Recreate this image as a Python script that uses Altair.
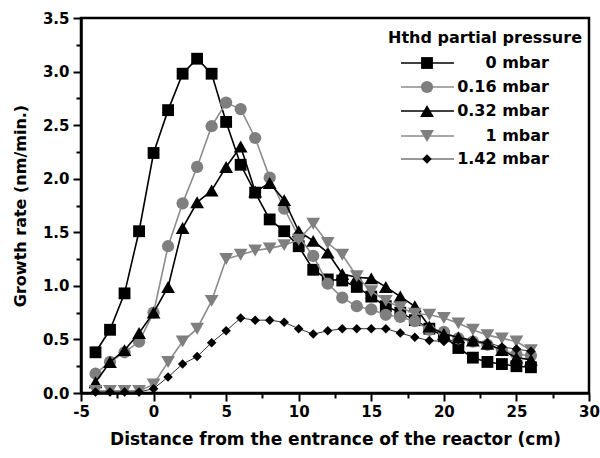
import altair as alt
import pandas as pd

distance = list(range(-4, 27))

rate_0 = [0.38, 0.59, 0.93, 1.51, 2.24, 2.64, 2.98, 3.12, 2.98, 2.53, 2.13, 1.87, 1.62, 1.51, 1.37,
          1.15, 1.06, 1.05, 0.99, 0.90, 0.81, 0.75, 0.68, 0.60, 0.53, 0.42, 0.33, 0.29, 0.27, 0.25, 0.24]
rate_016 = [0.18, 0.29, 0.38, 0.48, 0.75, 1.37, 1.77, 2.11, 2.49, 2.71, 2.65, 2.38, 2.01, 1.72, 1.46,
            1.28, 1.02, 0.89, 0.81, 0.78, 0.73, 0.71, 0.67, 0.59, 0.57, 0.51, 0.48, 0.45, 0.40, 0.36, 0.35]
rate_032 = [0.10, 0.29, 0.40, 0.56, 0.75, 0.99, 1.54, 1.78, 1.89, 2.11, 2.30, 1.88, 1.96, 1.80, 1.51,
            1.42, 1.31, 1.11, 1.08, 1.07, 0.99, 0.90, 0.81, 0.62, 0.55, 0.52, 0.49, 0.46, 0.40, 0.33, 0.31]
rate_1 = [0.02, 0.02, 0.02, 0.02, 0.08, 0.29, 0.48, 0.60, 0.86, 1.25, 1.29, 1.33, 1.35, 1.38, 1.43,
          1.58, 1.40, 1.29, 1.09, 0.95, 0.86, 0.80, 0.74, 0.73, 0.70, 0.65, 0.59, 0.54, 0.51, 0.48, 0.40]
rate_142 = [0.01, 0.01, 0.01, 0.01, 0.04, 0.15, 0.27, 0.34, 0.47, 0.58, 0.70, 0.68, 0.68, 0.66, 0.60,
            0.55, 0.58, 0.60, 0.60, 0.60, 0.60, 0.56, 0.52, 0.49, 0.48, 0.50, 0.49, 0.47, 0.43, 0.41, 0.39]

series_names = ["0 mbar", "0.16 mbar", "0.32 mbar", "1 mbar", "1.42 mbar"]
series_values = [rate_0, rate_016, rate_032, rate_1, rate_142]
series_colors = ["#000000", "#7f7f7f", "#000000", "#7f7f7f", "#000000"]
line_colors = ["#000000", "#8c8c8c", "#000000", "#8c8c8c", "#333333"]
line_widths = [1.6, 1.6, 1.6, 1.6, 1.0]
series_shapes = ["square", "circle", "triangle-up", "triangle-down", "diamond"]
series_sizes = [140, 150, 190, 190, 90]

x_ticks = [-5 + 2.5 * i for i in range(15)]
y_ticks = [0.25 * i for i in range(15)]

FONT = "DejaVu Sans"
W, H = 508, 375

x_axis = alt.Axis(
    values=x_ticks, title="Distance from the entrance of the reactor (cm)",
    labelExpr="datum.value % 5 === 0 ? '' + datum.value : ''",
    tickSize={"condition": {"test": "datum.value % 5 === 0", "value": 8}, "value": 5},
    labelFlush=False, labelOverlap=False, grid=False,
    domainColor="black", domainWidth=2.5, tickColor="black", tickWidth=2,
    labelFont=FONT, labelFontWeight="bold", labelFontSize=15, labelColor="black", labelPadding=3,
    titleFont=FONT, titleFontWeight="bold", titleFontSize=17, titleColor="black", titlePadding=12,
)
y_axis = alt.Axis(
    values=y_ticks, title="Growth rate (nm/min.)", format=".1f",
    labelExpr="abs(datum.value*2 - round(datum.value*2)) < 0.001 ? datum.label : ''",
    tickSize={"condition": {"test": "abs(datum.value*2 - round(datum.value*2)) < 0.001", "value": 8}, "value": 5},
    labelFlush=False, labelOverlap=False, grid=False,
    domainColor="black", domainWidth=2.5, tickColor="black", tickWidth=2,
    labelFont=FONT, labelFontWeight="bold", labelFontSize=15, labelColor="black", labelPadding=4,
    titleFont=FONT, titleFontWeight="bold", titleFontSize=16, titleColor="black", titlePadding=14,
)
x_scale = alt.Scale(domain=[-5, 30], nice=False, zero=False)
y_scale = alt.Scale(domain=[0, 3.5], nice=False, zero=False)

layers = []
for i, (name, vals) in enumerate(zip(series_names, series_values)):
    df = pd.DataFrame({"distance": distance, "rate": vals, "series": name})
    base = alt.Chart(df).encode(
        x=alt.X("distance:Q", scale=x_scale, axis=x_axis),
        y=alt.Y("rate:Q", scale=y_scale, axis=y_axis),
    )
    layers.append(base.mark_line(color=line_colors[i], strokeWidth=line_widths[i]))
    layers.append(base.mark_point(shape=series_shapes[i], size=series_sizes[i], filled=True,
                                  color=series_colors[i], opacity=1, strokeWidth=0))

# legend (inside the plot, top right)
leg_rows = [45, 69, 93, 118, 141]
layers.append(alt.Chart(pd.DataFrame({"t": ["Hthd partial pressure"]})).mark_text(
    font=FONT, fontWeight="bold", fontSize=16, align="center", baseline="middle", color="black"
).encode(text="t:N", x=alt.value(404), y=alt.value(20)))
for i, name in enumerate(series_names):
    ldf = pd.DataFrame({"label": [name]})
    lc = alt.Chart(ldf)
    layers.append(lc.mark_rule(color=line_colors[i], strokeWidth=line_widths[i]).encode(
        x=alt.value(320), x2=alt.value(373), y=alt.value(leg_rows[i])))
    layers.append(lc.mark_point(shape=series_shapes[i], size=series_sizes[i], filled=True,
                                color=series_colors[i], opacity=1, strokeWidth=0).encode(
        x=alt.value(346), y=alt.value(leg_rows[i])))
    layers.append(lc.mark_text(font=FONT, fontWeight="bold", fontSize=16, align="right",
                               baseline="middle", color="black").encode(
        text="label:N", x=alt.value(468), y=alt.value(leg_rows[i])))

chart = alt.layer(*layers).properties(
    width=W, height=H,
    autosize=alt.AutoSizeParams(type="none"),
    padding={"left": 81, "top": 18, "right": 11, "bottom": 65},
    background="white",
).configure_view(stroke="black", strokeWidth=2.5)

chart.save("out.html", embed_options={"renderer": "svg", "actions": False})
